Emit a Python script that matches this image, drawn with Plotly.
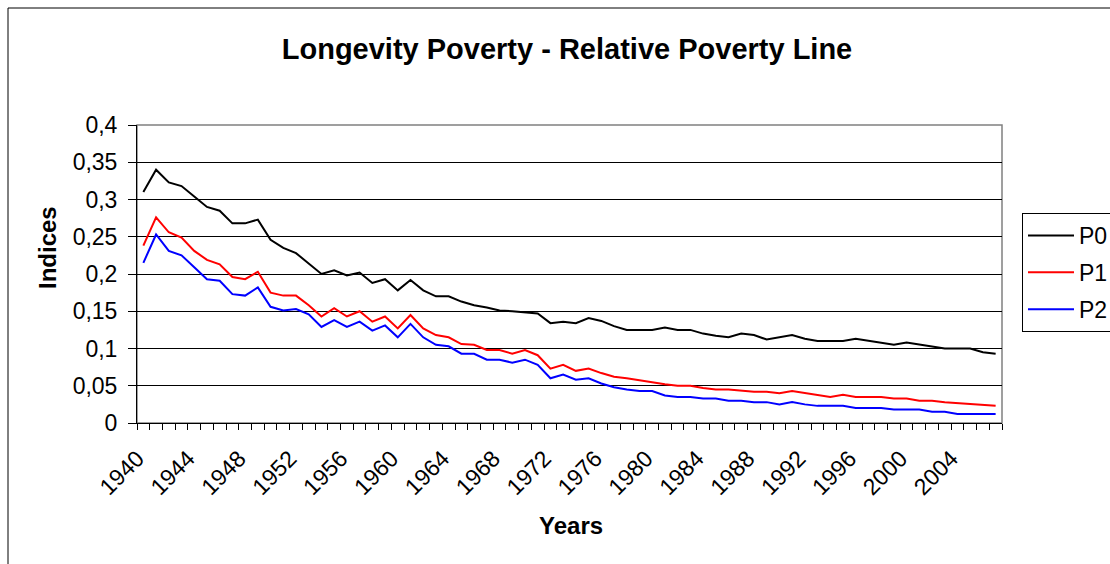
import plotly.graph_objects as go

years = list(range(1940, 2008))
label_years = [1940, 1944, 1948, 1952, 1956, 1960, 1964, 1968, 1972, 1976,
               1980, 1984, 1988, 1992, 1996, 2000, 2004]
y_ticks = [0, 0.05, 0.1, 0.15, 0.2, 0.25, 0.3, 0.35, 0.4]
y_labels = ["0", "0,05", "0,1", "0,15", "0,2", "0,25", "0,3", "0,35", "0,4"]

p0 = [0.310, 0.340, 0.323, 0.318, 0.304, 0.290, 0.285, 0.268, 0.268, 0.273,
      0.246, 0.235, 0.228, 0.214, 0.200, 0.205, 0.198, 0.202, 0.188, 0.193,
      0.178, 0.192, 0.178, 0.170, 0.170, 0.163, 0.158, 0.155, 0.151, 0.150,
      0.148, 0.147, 0.134, 0.136, 0.134, 0.141, 0.137, 0.130, 0.125, 0.125,
      0.125, 0.128, 0.125, 0.125, 0.120, 0.117, 0.115, 0.120, 0.118, 0.112,
      0.115, 0.118, 0.113, 0.110, 0.110, 0.110, 0.113, 0.110, 0.107, 0.105,
      0.108, 0.105, 0.103, 0.100, 0.100, 0.100, 0.095, 0.093]
p1 = [0.238, 0.276, 0.256, 0.249, 0.231, 0.219, 0.213, 0.196, 0.193, 0.203,
      0.175, 0.171, 0.171, 0.158, 0.143, 0.154, 0.143, 0.150, 0.136, 0.143,
      0.127, 0.145, 0.127, 0.118, 0.115, 0.106, 0.105, 0.098, 0.098, 0.093,
      0.098, 0.091, 0.073, 0.078, 0.070, 0.073, 0.067, 0.062, 0.060, 0.057,
      0.054, 0.052, 0.050, 0.050, 0.047, 0.045, 0.045, 0.043, 0.042, 0.042,
      0.040, 0.043, 0.040, 0.038, 0.035, 0.038, 0.035, 0.035, 0.035, 0.033,
      0.033, 0.030, 0.030, 0.028, 0.027, 0.025, 0.025, 0.023]
p2 = [0.215, 0.253, 0.231, 0.225, 0.209, 0.193, 0.191, 0.173, 0.171, 0.182,
      0.156, 0.151, 0.153, 0.146, 0.129, 0.138, 0.129, 0.136, 0.124, 0.131,
      0.115, 0.133, 0.115, 0.105, 0.103, 0.093, 0.093, 0.085, 0.085, 0.081,
      0.085, 0.078, 0.060, 0.065, 0.058, 0.060, 0.053, 0.048, 0.045, 0.043,
      0.043, 0.037, 0.035, 0.035, 0.033, 0.033, 0.030, 0.030, 0.028, 0.028,
      0.025, 0.028, 0.025, 0.023, 0.023, 0.023, 0.020, 0.020, 0.020, 0.018,
      0.018, 0.018, 0.015, 0.015, 0.012, 0.012, 0.012, 0.012]

FONT = "Liberation Sans, Arial, sans-serif"

fig = go.Figure()
for name, vals, col in [("P0", p0, "#000000"), ("P1", p1, "#FF0000"), ("P2", p2, "#0000FF")]:
    fig.add_trace(go.Scatter(x=years, y=vals, mode="lines", name=name, legendgroup=name,
                             line=dict(color=col, width=2)))

boundaries = [y - 0.5 for y in years] + [years[-1] + 0.5]

W, H = 1110, 564
L, R, T, B = 137, 1002, 125, 423

def px_x(px):
    return (px - L) / (R - L)

def px_y(py):
    return (B - py) / (B - T)

fig.update_layout(
    width=W, height=H,
    margin=dict(l=L, r=W - R, t=T, b=H - B, autoexpand=False),
    paper_bgcolor="white", plot_bgcolor="white",
    font=dict(family=FONT, color="black", size=20),
    title=dict(text="<b>Longevity Poverty - Relative Poverty Line</b>",
               x=567 / W, xanchor="center", y=1 - 49 / H, yanchor="middle",
               xref="container", yref="container",
               font=dict(family=FONT, size=29, color="black")),
    showlegend=True,
    legend=dict(x=px_x(1022), y=px_y(213), xanchor="left", yanchor="top",
                bordercolor="black", borderwidth=1, bgcolor="white",
                font=dict(family=FONT, size=23, color="black"),
                itemwidth=46, tracegroupgap=4),
    xaxis=dict(range=[years[0] - 0.5, years[-1] + 0.5], tickmode="array",
               tickvals=label_years, ticktext=[str(y) for y in label_years],
               tickangle=-45, ticks="", showgrid=False, zeroline=False,
               showline=True, linecolor="black", linewidth=1,
               ticklabelstandoff=12, ticklabelshift=-6,
               tickfont=dict(family=FONT, size=23, color="black"),
               minor=dict(tickmode="array", tickvals=boundaries, ticks="outside",
                          ticklen=6, tickcolor="black", tickwidth=1, showgrid=False)),
    yaxis=dict(range=[0, 0.4], tickmode="array", tickvals=y_ticks, ticktext=y_labels,
               ticks="outside", ticklen=8, tickcolor="black",
               ticklabelstandoff=6,
               showgrid=True, gridcolor="black", gridwidth=1, zeroline=False,
               showline=True, linecolor="black", linewidth=1,
               tickfont=dict(family=FONT, size=23, color="black")),
    shapes=[
        dict(type="rect", xref="paper", yref="paper", x0=0, x1=1, y0=0, y1=1,
             line=dict(color="#808080", width=1.5), layer="below"),
        dict(type="rect", xref="paper", yref="paper",
             x0=px_x(8), x1=px_x(1120), y0=px_y(575), y1=px_y(8),
             line=dict(color="black", width=1), layer="below"),
    ],
    annotations=[
        dict(text="<b>Indices</b>", textangle=-90, xref="paper", yref="paper",
             x=px_x(47), y=px_y(248), xanchor="center", yanchor="middle",
             showarrow=False, font=dict(family=FONT, size=24, color="black")),
        dict(text="<b>Years</b>", xref="paper", yref="paper",
             x=px_x(571), y=px_y(525), xanchor="center", yanchor="middle",
             showarrow=False, font=dict(family=FONT, size=24, color="black")),
    ],
)

fig.write_html("out.html")
